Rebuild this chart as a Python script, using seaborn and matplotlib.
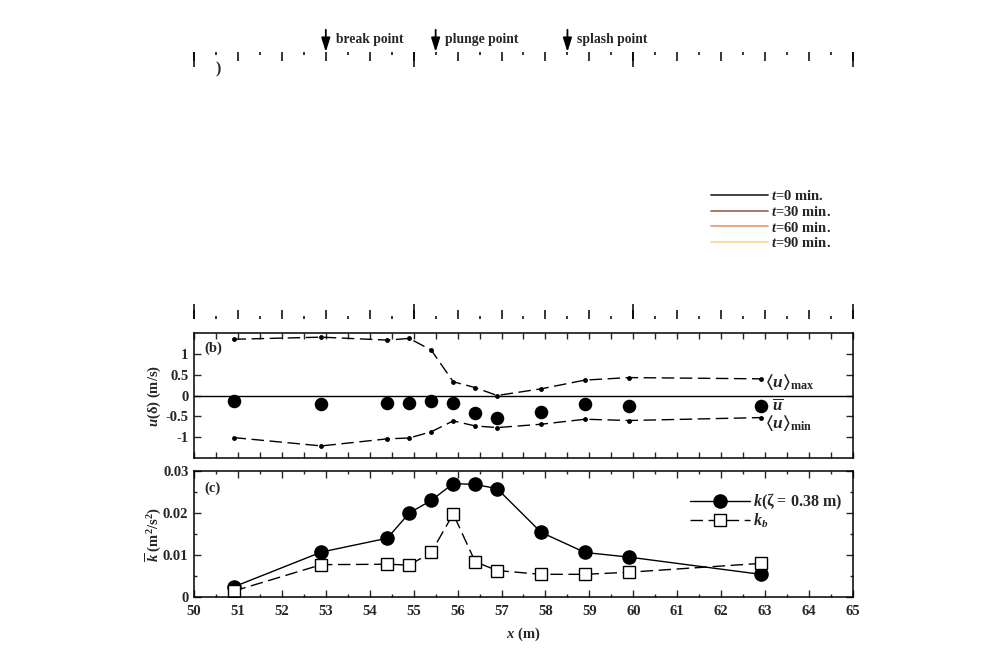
import matplotlib
matplotlib.use("Agg")
import matplotlib.pyplot as plt
from matplotlib.ticker import MultipleLocator, FixedLocator
from matplotlib.lines import Line2D
import seaborn as sns
import pandas as pd

# ---------------- data ----------------
x_pos = [50.9, 52.9, 54.4, 54.9, 55.4, 55.9, 56.4, 56.9, 57.9, 58.9, 59.9, 62.9]
u_max = [1.35, 1.40, 1.33, 1.37, 1.09, 0.33, 0.19, 0.0, 0.16, 0.37, 0.43, 0.40]
u_mean = [-0.12, -0.21, -0.18, -0.18, -0.12, -0.18, -0.43, -0.53, -0.39, -0.21, -0.24, -0.24]
u_min = [-1.01, -1.21, -1.04, -1.02, -0.87, -0.61, -0.73, -0.77, -0.69, -0.57, -0.60, -0.53]
k_vals = [0.0024, 0.0107, 0.0140, 0.0200, 0.0230, 0.0270, 0.0268, 0.0258, 0.0154, 0.0106, 0.0095, 0.0054]
kb_vals = [0.0014, 0.0077, 0.0078, 0.0076, 0.0106, 0.0198, 0.0084, 0.0063, 0.0054, 0.0054, 0.0059, 0.0080]

events = ["break point", "plunge point", "splash point"]
event_x = [53.0, 55.5, 58.5]

time_labels = ["t=0 min.", "t=30 min.", "t=60 min.", "t=90 min."]
time_colors = ["#333333", "#a06e58", "#e6a274", "#ffd49a"]

x_ticks = list(range(50, 66))
b_yticks = [-1, -0.5, 0, 0.5, 1]
b_ylabels = ["-1", "-0.5", "0", "0.5", "1"]
c_yticks = [0, 0.01, 0.02, 0.03]
c_ylabels = ["0", "0.01", "0.02", "0.03"]

df = pd.DataFrame({"x": x_pos, "umax": u_max, "umean": u_mean, "umin": u_min,
                   "k": k_vals, "kb": kb_vals})

# ---------------- style ----------------
sns.set_theme(style="ticks")
plt.rcParams["font.family"] = ["Liberation Serif", "DejaVu Serif"]
plt.rcParams["font.weight"] = "bold"
plt.rcParams["axes.labelweight"] = "bold"
plt.rcParams["axes.unicode_minus"] = False
plt.rcParams["mathtext.fontset"] = "custom"
plt.rcParams["mathtext.rm"] = "Liberation Serif:bold"
plt.rcParams["mathtext.it"] = "Liberation Serif:italic:bold"
plt.rcParams["mathtext.bf"] = "Liberation Serif:bold"
plt.rcParams["mathtext.fallback"] = "stix"

FS = 10.5
W, H = 1000, 666
fig = plt.figure(figsize=(10, 6.66), dpi=100)
fig.patch.set_facecolor("white")


def fax(l, t, r, b):
    return fig.add_axes([l / W, 1 - b / H, (r - l) / W, (b - t) / H])


# ---------------- panel (a): only ticks visible ----------------
axa = fax(194, 52, 853, 319)
axa.set_xlim(50, 65)
axa.set_ylim(0, 1)
axa2 = axa.twiny()
axa2.set_xlim(50, 65)
for a in (axa, axa2):
    for s in a.spines.values():
        s.set_visible(False)
    a.set_yticks([])
    a.patch.set_alpha(0)
axa.xaxis.set_major_locator(MultipleLocator(1))
axa.xaxis.set_minor_locator(MultipleLocator(0.5))
axa.tick_params(axis="x", which="major", direction="in", length=6.5, width=1.1,
                top=True, bottom=True, labelbottom=False, labeltop=False, color="black")
axa.tick_params(axis="x", which="minor", direction="in", length=2, width=1.1,
                top=True, bottom=True, color="black")
axa2.xaxis.set_major_locator(MultipleLocator(5))
axa2.xaxis.set_minor_locator(FixedLocator([]))
axa2.tick_params(axis="x", which="major", direction="in", length=11, width=1.1,
                 top=True, bottom=True, labeltop=False, labelbottom=False, color="black")
axa.text(0.036, 0.935, ")", transform=axa.transAxes, fontsize=FS + 1,
         ha="center", va="center")

trans = axa.get_xaxis_transform()
for name, ex in zip(events, event_x):
    axa.annotate("", xy=(ex, 1.0), xycoords=trans, xytext=(0, 16),
                 textcoords="offset points",
                 arrowprops=dict(arrowstyle="-|>,head_length=0.7,head_width=0.22",
                                 color="black", lw=1.3, shrinkA=0, shrinkB=0),
                 annotation_clip=False)
    axa.annotate(name, xy=(ex, 1.0), xycoords=trans, xytext=(7, 9),
                 textcoords="offset points", fontsize=9.8, ha="left", va="center",
                 annotation_clip=False)

handles = [Line2D([0], [0], color=c, lw=1.3) for c in time_colors]
labels = [r"$t$=" + lbl[2:] for lbl in time_labels]
fig.legend(handles, labels, loc="upper left", bbox_to_anchor=(711 / W, 1 - 189 / H),
           frameon=False, fontsize=FS, handlelength=3.9, handletextpad=0.2,
           labelspacing=0.12, borderaxespad=0, borderpad=0)

# ---------------- panel (b) ----------------
axb = fax(194, 333, 853, 458)
axb.axhline(0, color="black", lw=1.0)
sns.lineplot(data=df, x="x", y="umax", ax=axb, color="black", lw=1.0,
             linestyle=(0, (9, 4)), marker="o", markersize=3.5, markeredgewidth=0)
sns.lineplot(data=df, x="x", y="umin", ax=axb, color="black", lw=1.0,
             linestyle=(0, (9, 4)), marker="o", markersize=3.5, markeredgewidth=0)
sns.scatterplot(data=df, x="x", y="umean", ax=axb, color="black", s=95,
                edgecolor="black", linewidth=0, zorder=5)
axb.set_xlim(50, 65)
axb.set_ylim(-1.5, 1.5)
axb.set_yticks(b_yticks)
axb.set_yticklabels(b_ylabels, fontweight="bold")
axb.xaxis.set_major_locator(MultipleLocator(1))
axb.xaxis.set_minor_locator(MultipleLocator(0.5))
axb.tick_params(axis="x", which="both", direction="in", length=4, width=1,
                top=True, bottom=True, labelbottom=False)
axb.tick_params(axis="y", which="major", direction="in", length=5, width=1,
                left=True, right=True, labelsize=FS, pad=4)
axb.set_xlabel("")
axb.set_ylabel(r"$u$(δ) (m/s)", fontsize=FS, labelpad=2)
axb.text(0.016, 0.88, "(b)", transform=axb.transAxes, fontsize=FS, ha="left", va="center")
axb.text(63.0, 0.57, r"$\langle u\rangle_{\rm max}$", fontsize=12.5, ha="left", va="top")
axb.text(63.15, -0.25, r"$\overline{u}$", fontsize=12, ha="left", va="center")
axb.text(63.0, -0.43, r"$\langle u\rangle_{\rm min}$", fontsize=12.5, ha="left", va="top")

# ---------------- panel (c) ----------------
axc = fax(194, 471, 853, 597)
sns.lineplot(data=df, x="x", y="k", ax=axc, color="black", lw=1.0, marker="o",
             markersize=10.5, markeredgewidth=0, label=r"$k$(ζ = 0.38 m)")
sns.lineplot(data=df, x="x", y="kb", ax=axc, color="black", lw=1.0,
             linestyle=(0, (9, 4)), marker="s", markersize=9, markerfacecolor="white",
             markeredgecolor="black", markeredgewidth=1.0, label=r"$k_b$")
axc.set_xlim(50, 65)
axc.set_ylim(0, 0.03)
axc.set_xticks(x_ticks)
axc.set_xticklabels([str(v) for v in x_ticks], fontweight="bold")
axc.xaxis.set_minor_locator(MultipleLocator(0.5))
axc.set_yticks(c_yticks)
axc.set_yticklabels(c_ylabels, fontweight="bold")
axc.yaxis.set_minor_locator(MultipleLocator(0.005))
axc.tick_params(axis="both", which="major", direction="in", length=5, width=1,
                top=True, bottom=True, left=True, right=True, labelsize=FS)
axc.tick_params(axis="x", which="major", pad=6)
axc.tick_params(axis="y", which="major", pad=4)
axc.tick_params(axis="both", which="minor", direction="in", length=2.5, width=1,
                top=True, bottom=True, left=True, right=True)
axc.set_xlabel(r"$x$ (m)", fontsize=FS, labelpad=5)
axc.set_ylabel(r"$\overline{k}$ (m$^2$/s$^2$)", fontsize=FS, labelpad=0)
axc.text(0.016, 0.86, "(c)", transform=axc.transAxes, fontsize=FS, ha="left", va="center")
axc.legend(loc="upper right", bbox_to_anchor=(0.995, 0.9), frameon=False, fontsize=11.5,
           handlelength=3.7, handletextpad=0.2, labelspacing=0.0, borderpad=0)

for ax in (axb, axc):
    for s in ax.spines.values():
        s.set_color("black")
        s.set_linewidth(1.1)
    ax.set_facecolor("white")

fig.savefig("out.png", dpi=100)
